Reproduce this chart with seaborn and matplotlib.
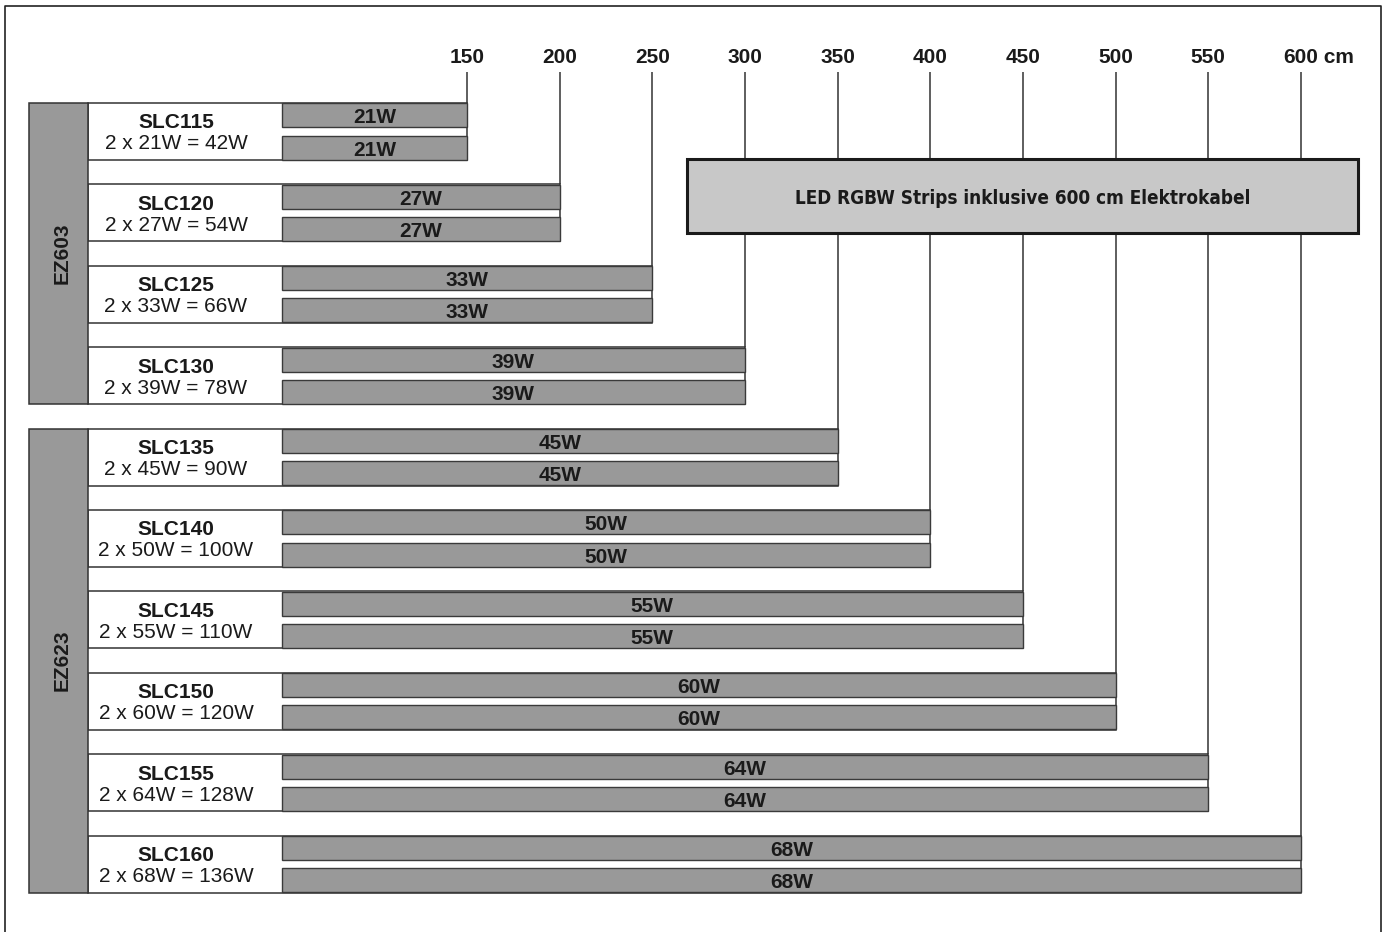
import numpy as np
import pandas as pd
import matplotlib
matplotlib.use("Agg")
import matplotlib.pyplot as plt
from matplotlib import font_manager
from matplotlib.font_manager import FontProperties
from matplotlib.patches import Rectangle
from matplotlib.lines import Line2D
import seaborn as sns

# ---------------- data ----------------
models = ["SLC115", "SLC120", "SLC125", "SLC130", "SLC135",
          "SLC140", "SLC145", "SLC150", "SLC155", "SLC160"]
lengths_cm = [150, 200, 250, 300, 350, 400, 450, 500, 550, 600]
strip_watts = [21, 27, 33, 39, 45, 50, 55, 60, 64, 68]
strips_per_model = 2
group_names = ["EZ603", "EZ623"]
group_sizes = [4, 6]
tick_labels = [str(v) for v in lengths_cm]
unit_label = "cm"
led_note = "LED RGBW Strips inklusive 600 cm Elektrokabel"

# ---------------- style ----------------
sns.set_theme(style="white")
plt.rcParams["font.family"] = ["Liberation Sans", "DejaVu Sans"]
TXT = "#1a1a1a"
EDGE = "#333333"
BAR_GRAY = "#999999"
BOX_GRAY = "#c8c8c8"


def pick_condensed_bold():
    cands = []
    for f in font_manager.fontManager.ttflist:
        n = f.name.lower()
        if f.style != "normal" or "italic" in f.fname.lower() or "oblique" in f.fname.lower():
            continue
        narrowish = ("narrow" in n or "condensed" in n or
                     str(f.stretch) in ("condensed", "semi-condensed", "extra-condensed"))
        w = f.weight if isinstance(f.weight, int) else (700 if "bold" in str(f.weight) else 400)
        if narrowish and w >= 600 and f.fname.lower().endswith((".ttf", ".otf")):
            cands.append(f)
    if cands:
        def rank(f):
            n = f.name.lower()
            return ("liberation" not in n, "dejavu" not in n, "roboto" not in n, f.name)
        cands.sort(key=rank)
        return FontProperties(fname=cands[0].fname)
    return FontProperties(family=["Liberation Sans", "DejaVu Sans"], weight="bold")


led_font = pick_condensed_bold()
LED_TARGET_W = 458  # px width of the note text

BAR_START = 50
LABEL_LEFT = -54.5
EZ_LEFT = -86.35
XMIN, XMAX = -102.0, 645.9
YTOP, YBOT = -1.6155, 9.834
BLOCK_H = 0.70
BAR_OFF = 0.197
BAR_H = 0.295

fig = plt.figure(figsize=(13.86, 9.32), dpi=100)
ax = fig.add_axes([0, 0, 1, 1])

# ---------------- strip bars via seaborn ----------------
rows = []
for i, (m, L, w) in enumerate(zip(models, lengths_cm, strip_watts)):
    for off in (-BAR_OFF, BAR_OFF):
        rows.append(dict(pos=i + off, span=L - BAR_START, model=m, watt=w))
df = pd.DataFrame(rows)

native_w = 2 * BAR_OFF
sns.barplot(data=df, x="span", y="pos", orient="y", native_scale=True,
            width=BAR_H / native_w, color=BAR_GRAY, saturation=1,
            edgecolor="#3a3a3a", linewidth=1.0, errorbar=None,
            left=BAR_START, zorder=3, ax=ax)

idx = np.arange(len(models))
L_arr = np.array(lengths_cm, dtype=float)

# white label blocks
ax.barh(idx, L_arr - LABEL_LEFT, left=LABEL_LEFT, height=BLOCK_H,
        color="white", edgecolor=EDGE, linewidth=1.1, zorder=2)

# group boxes
start = 0
for g, n in zip(group_names, group_sizes):
    center = start + (n - 1) / 2
    ax.barh(center, LABEL_LEFT - EZ_LEFT, left=EZ_LEFT, height=(n - 1) + BLOCK_H,
            color=BAR_GRAY, edgecolor=EDGE, linewidth=1.1, zorder=2)
    ax.text(-65.7, center, g, rotation=90, rotation_mode="anchor",
            ha="center", va="baseline", fontsize=15, fontweight="bold",
            color=TXT, zorder=4)
    start += n

# vertical scale lines
ax.vlines(L_arr, ymin=-0.731, ymax=idx - BLOCK_H / 2, color=EDGE,
          linewidth=1.1, zorder=1)

# scale labels
last = None
for L, lab in zip(lengths_cm, tick_labels):
    last = ax.text(L, -0.8415, lab, ha="center", va="baseline",
                   fontsize=15, fontweight="bold", color=TXT)
ax.annotate(" " + unit_label, xy=(1, 0), xycoords=last, ha="left", va="bottom",
            fontsize=15, fontweight="bold", color=TXT)

# model labels and strip labels
for i, (m, L, w) in enumerate(zip(models, lengths_cm, strip_watts)):
    ax.text(-7.0, i - 0.039, m, ha="center", va="baseline", fontsize=15,
            fontweight="bold", color=TXT, zorder=4)
    ax.text(-7.0, i + 0.219, f"{strips_per_model} x {w}W = {strips_per_model * w}W",
            ha="center", va="baseline", fontsize=15, color=TXT, zorder=4)
    cx = (BAR_START + L) / 2
    for off in (-BAR_OFF, BAR_OFF):
        ax.text(cx, i + off + 0.098, f"{w}W", ha="center", va="baseline",
                fontsize=15, fontweight="bold", color=TXT, zorder=4)

# LED note box
bx0, bx1, by0, by1 = 268.9, 630.8, 0.3415, 1.2506
ax.add_patch(Rectangle((bx0, by0), bx1 - bx0, by1 - by0, facecolor=BOX_GRAY,
                       edgecolor="#1a1a1a", linewidth=2.2, zorder=5))
led_font.set_size(15)
note = ax.text((bx0 + bx1) / 2, 0.894, led_note, ha="center", va="baseline",
               fontproperties=led_font, color=TXT, zorder=6)

ax.set_xlim(XMIN, XMAX)
ax.set_ylim(YBOT, YTOP)
ax.set_axis_off()

# fit note text to the reference width
fig.canvas.draw()
wpx = note.get_window_extent(fig.canvas.get_renderer()).width
new_size = min(15 * LED_TARGET_W / wpx, 19)
led_font.set_size(new_size)
note.set_fontproperties(led_font)

# outer frame
W, H = 1386, 932
fig.add_artist(Line2D([5 / W, 5 / W, 1381 / W, 1381 / W], [0, 1 - 6 / H, 1 - 6 / H, 0],
                      transform=fig.transFigure, color="#222222", linewidth=1.2))

fig.savefig("out.png", dpi=100)
